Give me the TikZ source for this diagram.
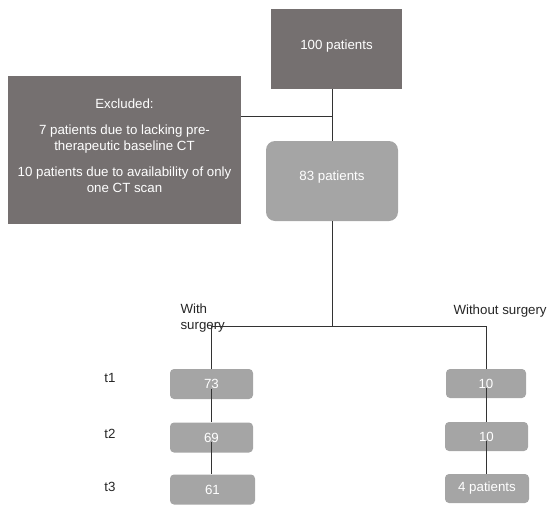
\documentclass[tikz,border=0pt]{standalone}
\usepackage{fontspec}
\setmainfont{Liberation Sans}
\usepackage{tikz}

\definecolor{darkbox}{HTML}{757070}
\definecolor{lightbox}{HTML}{A5A5A5}

\begin{document}
\begin{tikzpicture}[x=1pt, y=-1pt,
    every node/.style={font=\fontsize{13.3}{16.5}\selectfont},
    bigbox/.style={fill=darkbox, text=white, inner sep=0pt},
    roundbox/.style={fill=lightbox, text=white, rounded corners=9pt, inner sep=0pt},
    smallbox/.style={fill=lightbox, text=white, rounded corners=4pt, inner sep=0pt,
        minimum height=30pt},
    link/.style={draw=black!80, line width=1pt}]
    \useasboundingbox (0,0) rectangle (550,509);

    % top part
    \node[bigbox, minimum width=131pt, minimum height=80pt] (top) at (336.5,49) {};
    \node[text=white] (toptxt) at (336.5,46) {100 patients};
    \node[bigbox, minimum width=233pt, minimum height=148pt] (excl) at (124.5,150) {};
    \node[text=white, align=center] (excltxt) at (124.5,146)
        {Excluded:\\[9pt]
         7 patients due to lacking pre-\\therapeutic baseline CT\\[9pt]
         10 patients due to availability of only\\one CT scan};
    \node[roundbox, minimum width=132pt, minimum height=80pt] (p83) at (332,181) {};
    \node[text=white] (p83txt) at (332,177.5) {83 patients};

    % with surgery
    \node[smallbox, minimum width=83pt] (ws1) at (211.5,384) {73};
    \node[smallbox, minimum width=83pt] (ws2) at (211.5,437.5) {69};
    \node[smallbox, minimum width=85pt] (ws3) at (212.5,489.5) {61};

    % without surgery
    \node[smallbox, minimum width=80pt, minimum height=29pt] (wo1) at (486,383.5) {10};
    \node[smallbox, minimum width=83pt, minimum height=29pt] (wo2) at (486.5,436.5) {10};
    \node[smallbox, minimum width=84pt, minimum height=29pt] (wo3) at (487,488.5) {4 patients};

    % labels
    \node[anchor=west, align=left, text=black!85] (wslab) at (177,318) {With\\surgery};
    \node[anchor=west, text=black!85] (wolab) at (450,311) {Without surgery};
    \node[text=black!85] (t1) at (110,378) {t1};
    \node[text=black!85] (t2) at (110,434) {t2};
    \node[text=black!85] (t3) at (110,487) {t3};

    \coordinate (join) at (332,116);
    \coordinate (split) at (332,326);

    % connectors
    \draw[link] (top.south -| p83) -- (p83.north);
    \draw[link] (join -| excl.east) -- (join);
    \draw[link] (p83.south) -- (split);
    \draw[link] (split -| ws1) -- (split -| wo1);
    \draw[link] (split -| ws1) -- (ws1.north);
    \draw[link] (split -| wo1) -- (wo1.north);
    \draw[link] (ws1.base) -- (ws2.north);
    \draw[link] (ws2.base) -- (ws2.base |- ws3.north);
    \draw[link] (wo1.base) -- (wo1.base |- wo2.north);
    \draw[link] (wo2.base) -- (wo2.base |- wo3.north);
\end{tikzpicture}
\end{document}
